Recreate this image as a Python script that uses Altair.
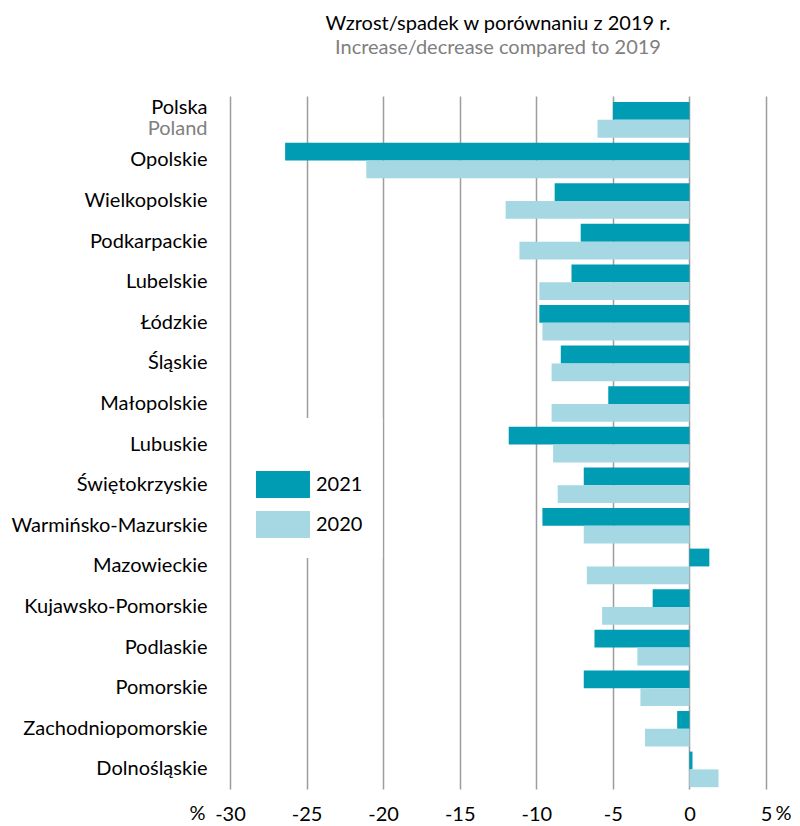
import altair as alt
import pandas as pd

regions = ["Polska", "Opolskie", "Wielkopolskie", "Podkarpackie", "Lubelskie",
           "Łódzkie", "Śląskie", "Małopolskie", "Lubuskie", "Świętokrzyskie",
           "Warmińsko-Mazurskie", "Mazowieckie", "Kujawsko-Pomorskie", "Podlaskie",
           "Pomorskie", "Zachodniopomorskie", "Dolnośląskie"]
values_2021 = [-5.0, -26.4, -8.8, -7.1, -7.7, -9.8, -8.4, -5.3, -11.8, -6.9,
               -9.6, 1.3, -2.4, -6.2, -6.9, -0.8, 0.2]
values_2020 = [-6.0, -21.1, -12.0, -11.1, -9.8, -9.6, -9.0, -9.0, -8.9, -8.6,
               -6.9, -6.7, -5.7, -3.4, -3.2, -2.9, 1.9]
years = ["2021", "2020"]
x_ticks = [-30, -25, -20, -15, -10, -5, 0, 5]
title_pl = "Wzrost/spadek w porównaniu z 2019 r."
title_en = "Increase/decrease compared to 2019"
poland_en = "Poland"
unit = "%"

rows = []
for r, a, b in zip(regions, values_2021, values_2020):
    rows.append({"region": r, "year": years[0], "value": a})
    rows.append({"region": r, "year": years[1], "value": b})
df = pd.DataFrame(rows)
labels = pd.DataFrame({"region": regions})
poland_df = pd.DataFrame({"region": [regions[0]], "label": [poland_en]})
unit_df = pd.DataFrame({"label": [unit]})

FONT = "Lato"
FS = 20
W, H = 536, 693
C2021 = "#009cb3"
C2020 = "#a5d8e2"

yscale = alt.Scale(domain=regions, paddingInner=0.123, paddingOuter=0.0965, align=0.77)

bars = alt.Chart(df).mark_bar().encode(
    x=alt.X("value:Q",
            scale=alt.Scale(domain=[-30, 5], nice=False),
            axis=alt.Axis(values=x_ticks, title=None, domain=False, ticks=False, tickSize=0,
                          grid=True, gridColor="#9d9d9d", gridWidth=1.5,
                          labelFontSize=FS, labelFont=FONT, labelColor="black",
                          labelPadding=15, labelFlush=False,
                          labelExpr="(datum.value < 0 ? '-' : '') + abs(datum.value)")),
    y=alt.Y("region:N", scale=yscale, axis=None),
    yOffset=alt.YOffset("year:N", scale=alt.Scale(domain=years, paddingInner=0, paddingOuter=0)),
    color=alt.Color("year:N", scale=alt.Scale(domain=years, range=[C2021, C2020]),
                    legend=alt.Legend(title=" ", titleFontSize=28, titlePadding=5,
                                      orient="none", legendX=19.5, legendY=322,
                                      direction="vertical", fillColor="white", padding=20,
                                      symbolType="M-2,-1L2,-1L2,1L-2,1Z", symbolSize=729,
                                      symbolStrokeWidth=0, symbolOpacity=1,
                                      labelFontSize=FS, labelFont=FONT, labelColor="black",
                                      labelOffset=19.5, rowPadding=13)),
)

names = alt.Chart(labels).transform_filter(
    alt.datum.region != regions[0]
).mark_text(align="right", baseline="alphabetic", dy=6, fontSize=FS, font=FONT, color="black").encode(
    y=alt.Y("region:N", scale=yscale, axis=None),
    x=alt.value(-22.5),
    text="region:N",
)

polska = alt.Chart(labels).transform_filter(
    alt.datum.region == regions[0]
).mark_text(align="right", baseline="alphabetic", dy=-5.5, fontSize=FS, font=FONT, color="black").encode(
    y=alt.Y("region:N", scale=yscale, axis=None),
    x=alt.value(-22.5),
    text="region:N",
)

poland = alt.Chart(poland_df).mark_text(
    align="right", baseline="alphabetic", dy=15, fontSize=FS, font=FONT, color="#808080"
).encode(
    y=alt.Y("region:N", scale=yscale, axis=None),
    x=alt.value(-22.5),
    text="label:N",
)

pct_left = alt.Chart(unit_df).mark_text(
    align="center", baseline="top", fontSize=FS, font=FONT, color="black"
).encode(x=alt.value(-32.5), y=alt.value(H + 15), text="label:N")

pct_right = alt.Chart(unit_df).mark_text(
    align="right", baseline="top", fontSize=FS, font=FONT, color="black"
).encode(x=alt.value(W + 25.5), y=alt.value(H + 15), text="label:N")

chart = alt.layer(bars, names, polska, poland, pct_left, pct_right).properties(
    width=W, height=H,
    title=alt.TitleParams(text=title_pl, subtitle=title_en, fontSize=FS, subtitleFontSize=FS,
                          font=FONT, subtitleFont=FONT, color="black", subtitleColor="#808080",
                          fontWeight="normal", anchor="middle", frame="group",
                          offset=38, subtitlePadding=4),
    padding={"left": 222, "top": 88, "right": 26, "bottom": 38},
    autosize=alt.AutoSizeParams(type="none"),
).configure_view(stroke=None)

chart.save("out.html", embed_options={"renderer": "svg", "actions": False})
